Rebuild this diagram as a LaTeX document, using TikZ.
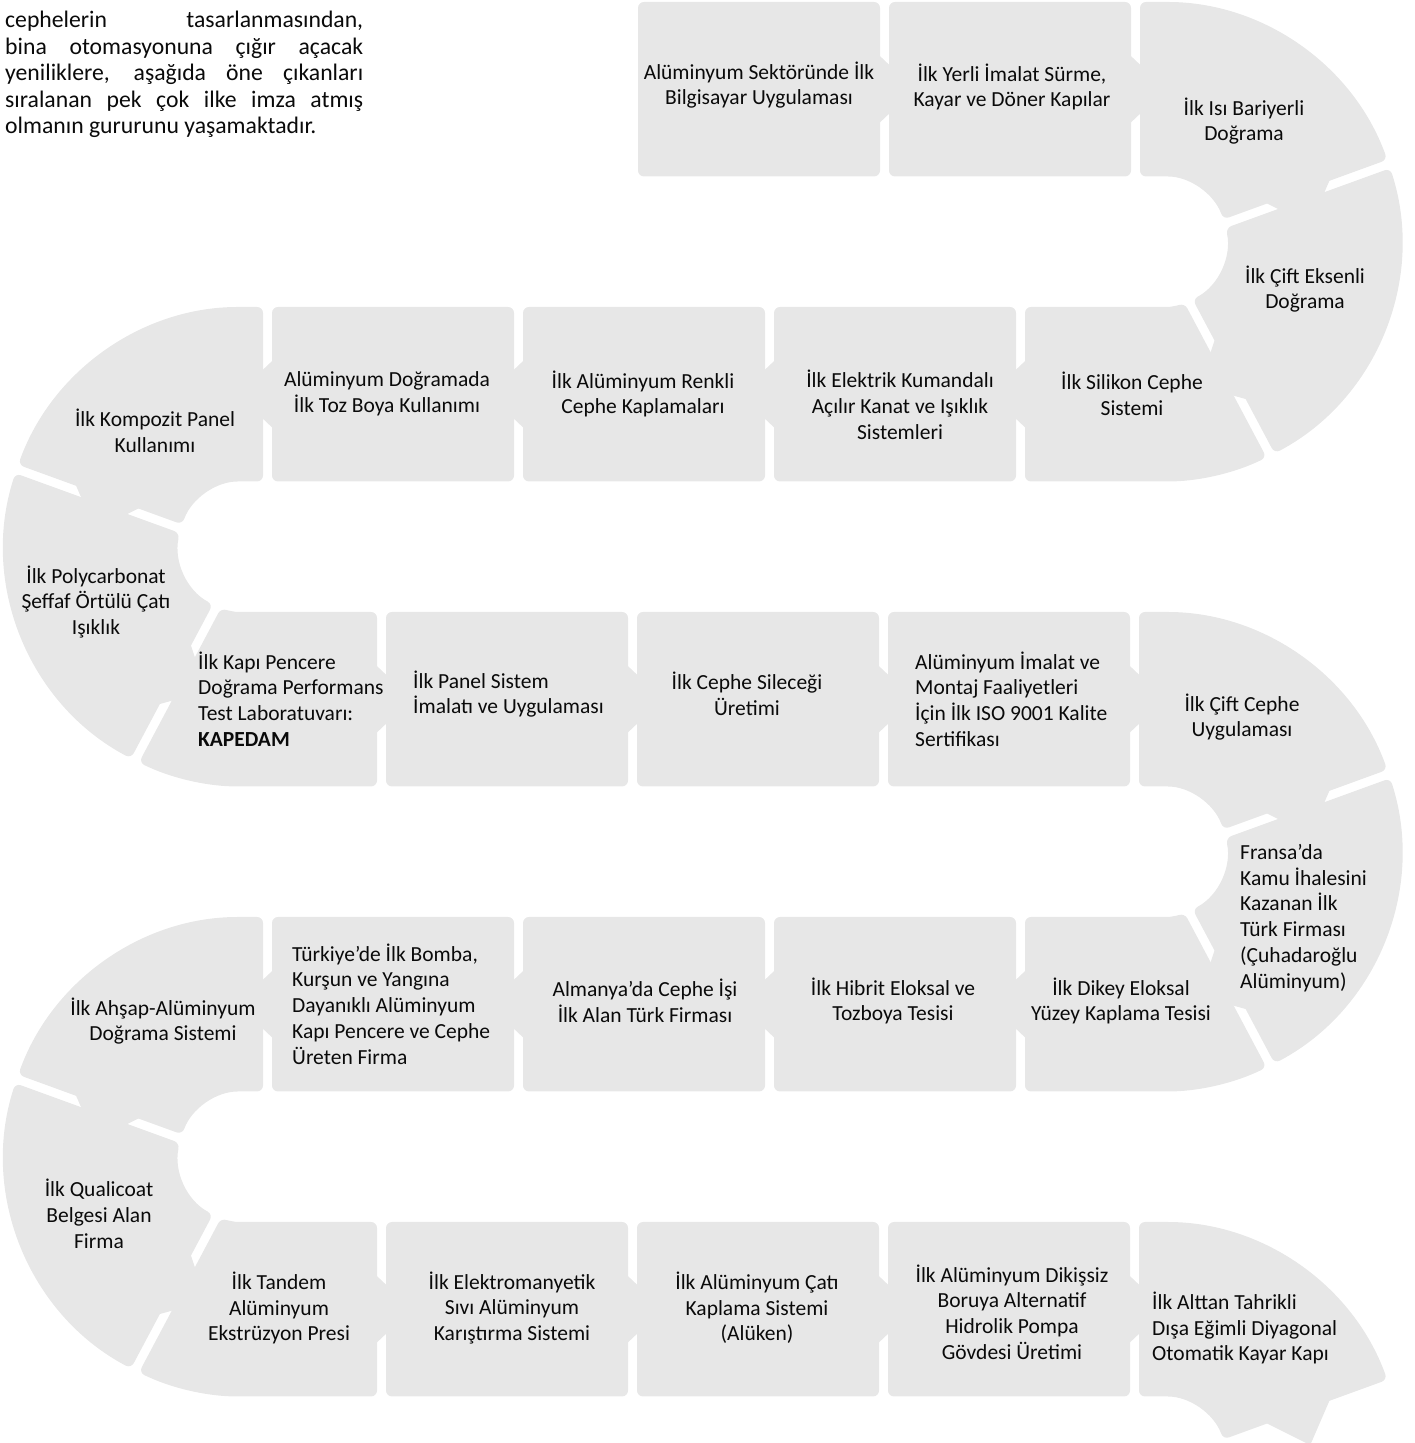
\documentclass[tikz,border=0pt]{standalone}
\usepackage{fontspec}
\setmainfont{Carlito}
\usetikzlibrary{calc}
\definecolor{boxgray}{RGB}{231,231,231}
\definecolor{txtc}{RGB}{10,10,10}
\newcommand\tabH[3]{\fill[boxgray] ({#1-2*(#3)},{#2+35}) -- ({#1+35*(#3)},{#2}) -- ({#1-2*(#3)},{#2-35}) -- cycle;}
\newcommand\tabA[3]{\fill[boxgray] ($(#1)+(#2:110pt)+(#3:-2pt)$) -- ($(#1)+(#2:145pt)+(#3:35pt)$) -- ($(#1)+(#2:180pt)+(#3:-2pt)$) -- cycle;}
\begin{document}
\begin{tikzpicture}[x=1pt,y=1pt,
  piece/.style={fill=boxgray, rounded corners=6pt},
  lbl/.style={font=\fontsize{21.5}{25.7}\selectfont, align=center, inner sep=0pt, text=txtc},
  lbll/.style={lbl, align=left, anchor=west},
  intro/.style={font=\fontsize{23.7}{26.5}\selectfont, text width=358pt, align=justify, inner sep=0pt, text=txtc, anchor=north west}]
\useasboundingbox (0,0) rectangle (1414,1443);
\begin{scope}
\clip (0,0) rectangle (1414,1443);
\coordinate (C1) at (1162,1201.25);
\coordinate (C2) at (243.5,896.25);
\coordinate (C3) at (1162,591.25);
\coordinate (C4) at (243.5,286.25);
\coordinate (C5) at (1162,-18.75);
% ---- row 1
\fill[piece] (638,1441) rectangle (880,1266.5); \tabH{880}{1353.75}{1}
\fill[piece] (889,1441) rectangle (1131,1266.5); \tabH{1131}{1353.75}{1}
\fill[piece] (1140,1441) -- (1162,1441) arc[start angle=90,end angle=20,radius=239.75pt] -- ($(C1)+(20:65.25pt)$) arc[start angle=20,end angle=90,radius=65.25pt] -- (1140,1266.5) -- cycle;
\tabA{C1}{20}{-70}
\fill[piece] ($(C1)+(17.85:239.75pt)$) arc[start angle=17.85,end angle=-62,radius=239.75pt] -- ($(C1)+(-62:65.25pt)$) arc[start angle=-62,end angle=12.15,radius=65.25pt] -- cycle;
\tabA{C1}{-62}{-152}
% ---- row 2
\fill[piece] (1025,1136) -- (1162,1136) arc[start angle=-90,end angle=-69.85,radius=65.25pt] -- ($(C1)+(-64.15:239.75pt)$) arc[start angle=-64.15,end angle=-90,radius=239.75pt] -- (1025,961.5) -- cycle;
\tabH{1025}{1048.75}{-1}
\fill[piece] (774,1136) rectangle (1016,961.5); \tabH{774}{1048.75}{-1}
\fill[piece] (523,1136) rectangle (765,961.5); \tabH{523}{1048.75}{-1}
\fill[piece] (272,1136) rectangle (514,961.5); \tabH{272}{1048.75}{-1}
\fill[piece] (263,1136) -- (243.5,1136) arc[start angle=90,end angle=160,radius=239.75pt] -- ($(C2)+(160:65.25pt)$) arc[start angle=160,end angle=90,radius=65.25pt] -- (263,961.5) -- cycle;
\tabA{C2}{160}{250}
\fill[piece] ($(C2)+(162.15:239.75pt)$) arc[start angle=162.15,end angle=242,radius=239.75pt] -- ($(C2)+(242:65.25pt)$) arc[start angle=242,end angle=167.85,radius=65.25pt] -- cycle;
\tabA{C2}{242}{332}
% ---- row 3
\fill[piece] ($(C2)+(244.15:239.75pt)$) arc[start angle=244.15,end angle=270,radius=239.75pt] -- (377,656.5) -- (377,831) -- (243.5,831) arc[start angle=270,end angle=249.85,radius=65.25pt] -- cycle;
\tabH{377}{743.75}{1}
\fill[piece] (386,831) rectangle (628,656.5); \tabH{628}{743.75}{1}
\fill[piece] (637,831) rectangle (879,656.5); \tabH{879}{743.75}{1}
\fill[piece] (888,831) rectangle (1130,656.5); \tabH{1130}{743.75}{1}
\fill[piece] (1139,831) -- (1162,831) arc[start angle=90,end angle=20,radius=239.75pt] -- ($(C3)+(20:65.25pt)$) arc[start angle=20,end angle=90,radius=65.25pt] -- (1139,656.5) -- cycle;
\tabA{C3}{20}{-70}
\fill[piece] ($(C3)+(17.85:239.75pt)$) arc[start angle=17.85,end angle=-62,radius=239.75pt] -- ($(C3)+(-62:65.25pt)$) arc[start angle=-62,end angle=12.15,radius=65.25pt] -- cycle;
\tabA{C3}{-62}{-152}
% ---- row 4
\fill[piece] (1025,526) -- (1162,526) arc[start angle=-90,end angle=-69.85,radius=65.25pt] -- ($(C3)+(-64.15:239.75pt)$) arc[start angle=-64.15,end angle=-90,radius=239.75pt] -- (1025,351.5) -- cycle;
\tabH{1025}{438.75}{-1}
\fill[piece] (774,526) rectangle (1016,351.5); \tabH{774}{438.75}{-1}
\fill[piece] (523,526) rectangle (765,351.5); \tabH{523}{438.75}{-1}
\fill[piece] (272,526) rectangle (514,351.5); \tabH{272}{438.75}{-1}
\fill[piece] (263,526) -- (243.5,526) arc[start angle=90,end angle=160,radius=239.75pt] -- ($(C4)+(160:65.25pt)$) arc[start angle=160,end angle=90,radius=65.25pt] -- (263,351.5) -- cycle;
\tabA{C4}{160}{250}
\fill[piece] ($(C4)+(162.15:239.75pt)$) arc[start angle=162.15,end angle=242,radius=239.75pt] -- ($(C4)+(242:65.25pt)$) arc[start angle=242,end angle=167.85,radius=65.25pt] -- cycle;
\tabA{C4}{242}{332}
% ---- row 5
\fill[piece] ($(C4)+(244.15:239.75pt)$) arc[start angle=244.15,end angle=270,radius=239.75pt] -- (377,46.5) -- (377,221) -- (243.5,221) arc[start angle=270,end angle=249.85,radius=65.25pt] -- cycle;
\tabH{377}{133.75}{1}
\fill[piece] (386,221) rectangle (628,46.5); \tabH{628}{133.75}{1}
\fill[piece] (637,221) rectangle (879,46.5); \tabH{879}{133.75}{1}
\fill[piece] (888,221) rectangle (1130,46.5); \tabH{1130}{133.75}{1}
\fill[piece] (1139,221) -- (1162,221) arc[start angle=90,end angle=20,radius=239.75pt] -- ($(C5)+(20:65.25pt)$) arc[start angle=20,end angle=90,radius=65.25pt] -- (1139,46.5) -- cycle;
\tabA{C5}{20}{-70}
\end{scope}
% ---- intro text
\node[intro] (intro) at (5,1432) {\hyphenpenalty=10000 cephelerin tasarlanmasından,\linebreak bina otomasyonuna çığır açacak\linebreak yeniliklere, aşağıda öne çıkanları\linebreak sıralanan pek çok ilke imza atmış\linebreak olmanın gururunu yaşamaktadır.};
% ---- labels
\node[lbl] (n01) at (759,1358) {Alüminyum Sektöründe İlk\\Bilgisayar Uygulaması};
\node[lbl] (n02) at (1012,1356) {İlk Yerli İmalat Sürme,\\Kayar ve Döner Kapılar};
\node[lbl] (n03) at (1244,1322) {İlk Isı Bariyerli\\Doğrama};
\node[lbl] (n04) at (1305,1154) {İlk Çift Eksenli\\Doğrama};
\node[lbl] (n05) at (1132,1049) {İlk Silikon Cephe\\Sistemi};
\node[lbl] (n06) at (900,1038) {İlk Elektrik Kumandalı\\Açılır Kanat ve Işıklık\\Sistemleri};
\node[lbl] (n07) at (643,1049) {İlk Alüminyum Renkli\\Cephe Kaplamaları};
\node[lbl] (n08) at (387,1049) {Alüminyum Doğramada\\İlk Toz Boya Kullanımı};
\node[lbl] (n09) at (155,1012) {İlk Kompozit Panel\\Kullanımı};
\node[lbl] (n10) at (96,841) {İlk Polycarbonat\\Şeffaf Örtülü Çatı\\Işıklık};
\node[lbll] (n11) at (198,744) {İlk Kapı Pencere\\Doğrama Performans\\Test Laboratuvarı:\\\textbf{KAPEDAM}};
\node[lbll] (n12) at (413,749) {İlk Panel Sistem\\İmalatı ve Uygulaması};
\node[lbl] (n13) at (747,749) {İlk Cephe Sileceği\\Üretimi};
\node[lbll] (n14) at (915,744) {Alüminyum İmalat ve\\Montaj Faaliyetleri\\İçin İlk ISO 9001 Kalite\\Sertifikası};
\node[lbl] (n15) at (1242,726) {İlk Çift Cephe\\Uygulaması};
\node[lbll] (n16) at (1240,525) {Fransa’da\\Kamu İhalesini\\Kazanan İlk\\Türk Firması\\(Çuhadaroğlu\\Alüminyum)};
\node[lbl] (n17) at (1121,442) {İlk Dikey Eloksal\\Yüzey Kaplama Tesisi};
\node[lbl] (n18) at (893,442) {İlk Hibrit Eloksal ve\\Tozboya Tesisi};
\node[lbl] (n19) at (645,442) {Almanya’da Cephe İşi\\İlk Alan Türk Firması};
\node[lbll] (n20) at (292,439) {Türkiye’de İlk Bomba,\\Kurşun ve Yangına\\Dayanıklı Alüminyum\\Kapı Pencere ve Cephe\\Üreten Firma};
\node[lbl] (n21) at (163,422) {İlk Ahşap-Alüminyum\\Doğrama Sistemi};
\node[lbl] (n22) at (99,229) {İlk Qualicoat\\Belgesi Alan\\Firma};
\node[lbl] (n23) at (279,135) {İlk Tandem\\Alüminyum\\Ekstrüzyon Presi};
\node[lbl] (n24) at (512,135) {İlk Elektromanyetik\\Sıvı Alüminyum\\Karıştırma Sistemi};
\node[lbl] (n25) at (757,135) {İlk Alüminyum Çatı\\Kaplama Sistemi\\(Alüken)};
\node[lbl] (n26) at (1012,131) {İlk Alüminyum Dikişsiz\\Boruya Alternatif\\Hidrolik Pompa\\Gövdesi Üretimi};
\node[lbll] (n27) at (1152,115) {İlk Alttan Tahrikli\\Dışa Eğimli Diyagonal\\Otomatik Kayar Kapı};
\end{tikzpicture}
\end{document}
